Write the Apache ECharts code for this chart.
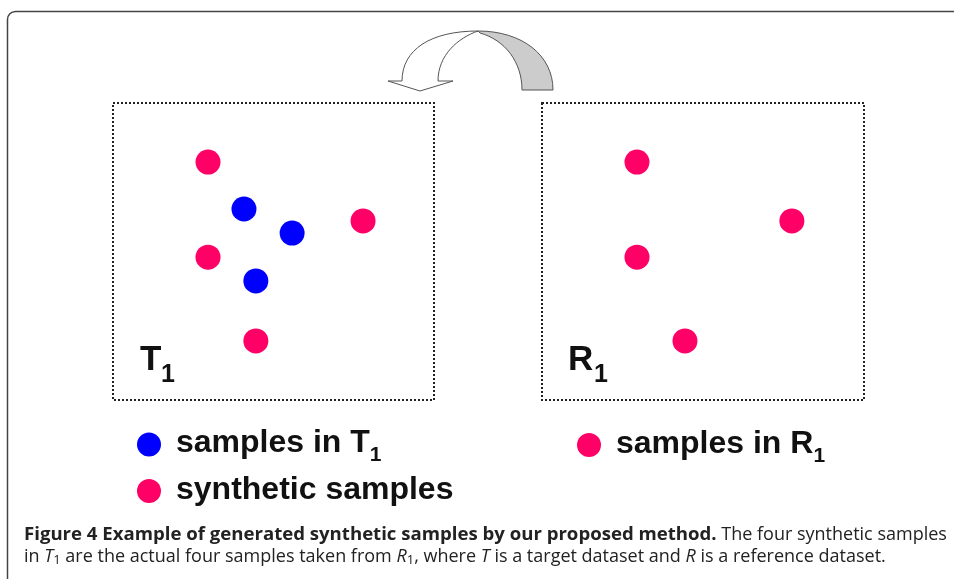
<!DOCTYPE html>
<html>
<head>
<meta charset="utf-8">
<script src="https://cdn.jsdelivr.net/npm/echarts@6/dist/echarts.min.js"></script>
<style>
  html, body { margin: 0; padding: 0; background: #fff; }
  #chart { width: 954px; height: 579px; }
</style>
</head>
<body>
<div id="chart"></div>
<script>
// points, in box units (0..100 each way)
const tSamples = [[40.8, 64.3], [55.8, 56.2], [44.5, 40.1]]
const syntheticSamples = [[29.6, 80.1], [77.9, 60.3], [29.6, 48.1], [44.5, 19.9]]
const rSamples = [[29.5, 80.1], [77.6, 60.3], [29.5, 48.1], [44.4, 19.9]]

const seriesNames = ['samples in T1', 'synthetic samples', 'samples in R1']
const boxLabels = ['T', 'R']

const captionLine1 = [
  ['b', 'Figure 4 Example of generated synthetic samples by our proposed method.'],
  ['r', ' The four synthetic samples'],
]
const captionLine2 = [
  ['r', 'in '], ['i', 'T'], ['s', '1'], ['r', ' are the actual four samples taken from '],
  ['i', 'R'], ['s', '1'], ['r', ', where '], ['i', 'T'], ['r', ' is a target dataset and '],
  ['i', 'R'], ['r', ' is a reference dataset.'],
]

const RED = '#fe0066'
const BLUE = '#0000ff'
const INK = '#111'

// the curved "copy" arrow above the boxes
echarts.graphic.registerShape('arrowBack', echarts.graphic.extendPath(
  'M478,31 C522,31 553,55 553,90 L522,90 C522,62 505,40 480,33 Z', {}))
echarts.graphic.registerShape('arrowFront', echarts.graphic.extendPath(
  'M402,81 C402,50 430,31 478,31 C458,38 438,55 438,81 L453,81 L420,91 L388,81 Z', {}))

const richLine = (parts) => parts.map(([k, t]) => `{${k}|${t}}`).join('')

const capFont = { fontFamily: 'Open Sans', fontSize: 18, lineHeight: 22, fill: '#222' }
const captionRich = {
  b: { ...capFont, fontWeight: 'bold', fontSize: 18.6 },
  r: { ...capFont },
  i: { ...capFont, fontStyle: 'italic' },
  s: { ...capFont, fontSize: 13, lineHeight: 10, padding: [7, 0, 0, 0] },
}

const legendText = {
  fontFamily: 'Liberation Sans',
  fontWeight: 'bold',
  fontSize: 32,
  lineHeight: 40,
  color: INK,
  padding: [0, 0, 2, 10],
  rich: {
    sub: {
      fontFamily: 'Liberation Sans',
      fontWeight: 'bold',
      fontSize: 21,
      lineHeight: 14,
      padding: [24, 0, 0, 0],
      color: INK,
    },
  },
}

function makeLegend(name, left, top) {
  return {
    data: [name],
    left,
    top,
    padding: 0,
    icon: 'circle',
    itemWidth: 24,
    itemHeight: 24,
    selectedMode: false,
    textStyle: legendText,
    formatter: (n) => n.replace(/([TR])1$/, '$1{sub|1}'),
  }
}

function boxLabel(letter, x) {
  return [
    {
      type: 'text',
      x,
      y: 360,
      style: { text: letter, fontFamily: 'Liberation Sans', fontWeight: 'bold', fontSize: 35, fill: INK, verticalAlign: 'middle' },
    },
    {
      type: 'text',
      x: x + (letter === 'T' ? 21 : 26),
      y: 375,
      style: { text: '1', fontFamily: 'Liberation Sans', fontWeight: 'bold', fontSize: 25, fill: INK, verticalAlign: 'middle' },
    },
  ]
}

function axisPair(gridIndex) {
  return {
    x: { type: 'value', gridIndex, min: 0, max: 100, show: false },
    y: { type: 'value', gridIndex, min: 0, max: 100, show: false },
  }
}

function buildOption() {
  const a0 = axisPair(0)
  const a1 = axisPair(1)
  const gridBase = { show: true, borderColor: '#222', borderWidth: 2, borderType: 'dotted', top: 103, height: 297 }
  return {
    animation: false,
    backgroundColor: '#fff',
    grid: [
      { ...gridBase, left: 113, width: 321 },
      { ...gridBase, left: 542, width: 322 },
    ],
    xAxis: [a0.x, a1.x],
    yAxis: [a0.y, a1.y],
    legend: [
      makeLegend(seriesNames[0], 137, 421),
      makeLegend(seriesNames[1], 137, 470),
      makeLegend(seriesNames[2], 577, 421.5),
    ],
    graphic: [
      {
        type: 'rect',
        shape: { x: 7.5, y: 11.5, width: 1200, height: 1200, r: 8 },
        style: { fill: 'none', stroke: '#444', lineWidth: 1.5 },
        silent: true,
      },
      {
        type: 'arrowBack',
        style: { fill: '#cccccc', stroke: '#555', lineWidth: 1 },
        silent: true,
      },
      {
        type: 'arrowFront',
        style: { fill: '#fff', stroke: '#555', lineWidth: 1 },
        silent: true,
      },
      ...boxLabel(boxLabels[0], 140),
      ...boxLabel(boxLabels[1], 568),
      {
        type: 'text',
        x: 24,
        y: 535,
        style: { text: richLine(captionLine1), rich: captionRich, verticalAlign: 'middle' },
      },
      {
        type: 'text',
        x: 24,
        y: 557,
        style: { text: richLine(captionLine2), rich: captionRich, verticalAlign: 'middle' },
      },
    ],
    series: [
      { name: seriesNames[0], type: 'scatter', xAxisIndex: 0, yAxisIndex: 0, symbolSize: 25, itemStyle: { color: BLUE, opacity: 1 }, data: tSamples },
      { name: seriesNames[1], type: 'scatter', xAxisIndex: 0, yAxisIndex: 0, symbolSize: 25, itemStyle: { color: RED, opacity: 1 }, data: syntheticSamples },
      { name: seriesNames[2], type: 'scatter', xAxisIndex: 1, yAxisIndex: 1, symbolSize: 25, itemStyle: { color: RED, opacity: 1 }, data: rSamples },
    ],
  }
}

const chart = echarts.init(document.getElementById('chart'))
chart.setOption(buildOption())
</script>
</body>
</html>
